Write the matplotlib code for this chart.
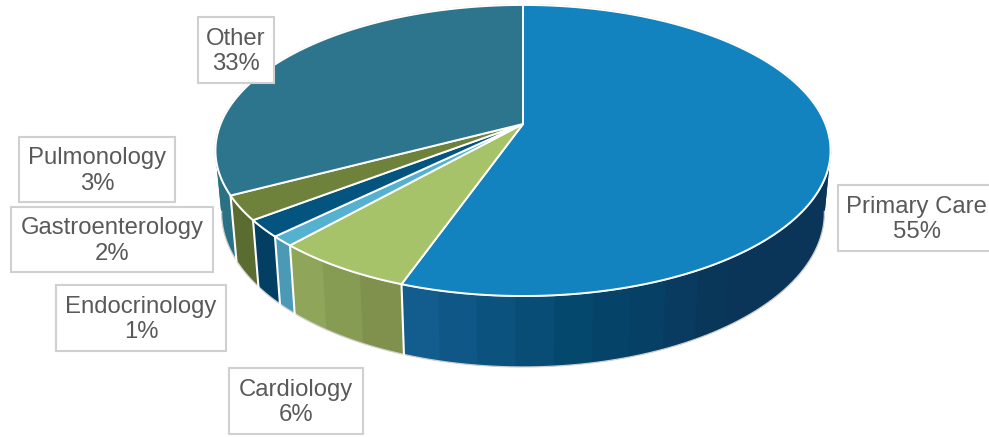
import numpy as np
import matplotlib
matplotlib.use("Agg")
import matplotlib.pyplot as plt
from matplotlib.colors import LinearSegmentedColormap
from matplotlib.patches import Rectangle

plt.rcParams["font.family"] = ["Liberation Sans", "DejaVu Sans"]

# Data, clockwise from 12 o'clock
categories = ["Primary Care", "Cardiology", "Endocrinology", "Gastroenterology", "Pulmonology", "Other"]
shares = [55.4, 6.2, 1.1, 1.9, 2.7, 32.7]

# Style
top_colors = ["#1283BE", "#A6C36A", "#54B2D0", "#03557F", "#6E823C", "#2C758D"]
wall_colors = [
    ["#0A3558", "#0A3558", "#0A3558", "#04476C", "#125C8E"],
    ["#7F914C", "#8FA65A"],
    ["#4A9AB5", "#4A9AB5"],
    ["#023F62", "#03466E"],
    ["#5B6C30", "#66793A"],
    ["#2A7186", "#2A7186"],
]
# label boxes: left, top, right, bottom in pixels
boxes = [
    (838, 185, 995, 251),
    (229, 368, 363, 434),
    (56, 285, 226, 351),
    (11, 207, 213, 272),
    (19, 137, 175, 202),
    (198, 17, 274, 83),
]

# Perspective of the pie disc
CX, CY = 523, 124
RX, RY, K = 302.4, 140.7, 0.182


def top_rim(theta):
    u, v = np.sin(theta), np.cos(theta)
    w = 1 + K * v
    return CX + RX * u / w, CY - RY * v / w


def bottom_rim(theta):
    x, y = top_rim(theta)
    return CX + (x - CX) * 0.98, y + 63.4 + (y - 170) * 0.06


fig = plt.figure(figsize=(9.89, 4.37), dpi=100)
ax = fig.add_axes([0, 0, 1, 1])
ax.set_xlim(0, 989)
ax.set_ylim(437, 0)
ax.axis("off")

edges = np.radians(np.cumsum([0] + shares) * 3.6)

# Side wall, banded like the original gradient
for i in range(len(shares)):
    t0, t1 = edges[i], edges[i + 1]
    if t1 <= np.pi / 2:
        continue
    t0 = max(t0, np.pi / 2)
    t1 = min(t1, 1.5 * np.pi)
    if t1 <= t0:
        continue
    cmap = LinearSegmentedColormap.from_list("wall", wall_colors[i])
    n_bands = max(1, int(np.degrees(t1 - t0) / 6))
    band_edges = np.linspace(t0, t1, n_bands + 1)
    for b in range(n_bands):
        # every band runs a little into the next one so no seam shows
        end = band_edges[min(b + 2, n_bands)]
        th = np.linspace(band_edges[b], end, 16)
        xt, yt = top_rim(th)
        xb, yb = bottom_rim(th)
        c = cmap(b / max(1, n_bands - 1))
        ax.fill(np.r_[xt, xb[::-1]], np.r_[yt, yb[::-1]], color=c, lw=0, zorder=2)

# Thin grey edge under the wall and around the disc
th = np.radians(np.linspace(100, 260, 300))
xb, yb = bottom_rim(th)
ax.plot(xb, yb, color="#CFCFCF", lw=0.9, zorder=3)
th = np.linspace(0, 2 * np.pi, 400)
xt, yt = top_rim(th)
ax.plot(xt, yt, color="#D0D0D0", lw=1.3, zorder=3)

# White seams between wall pieces
for t in edges[1:]:
    if np.pi / 2 < t < 1.5 * np.pi:
        xa, ya = top_rim(t)
        xc, yc = bottom_rim(t)
        ax.plot([xa, xc], [ya, yc], color="white", lw=1.5, zorder=4)

# Top faces
for i in range(len(shares)):
    th = np.linspace(edges[i], edges[i + 1], 200)
    xt, yt = top_rim(th)
    ax.fill(np.r_[CX, xt], np.r_[CY, yt], facecolor=top_colors[i], edgecolor="white",
            lw=1.4, joinstyle="round", zorder=5)

# Labels
for name, share, (x0, y0, x1, y1) in zip(categories, shares, boxes):
    ax.add_patch(Rectangle((x0, y0), x1 - x0, y1 - y0, facecolor="white",
                           edgecolor="#D0D0D0", lw=1.5, zorder=6))
    ax.text((x0 + x1) / 2, (y0 + y1) / 2 + 1.5, f"{name}\n{round(share)}%", ha="center",
            va="center", ma="center", fontsize=17.2, color="#595959", linespacing=1.18, zorder=7)

fig.savefig("out.png", dpi=100)
